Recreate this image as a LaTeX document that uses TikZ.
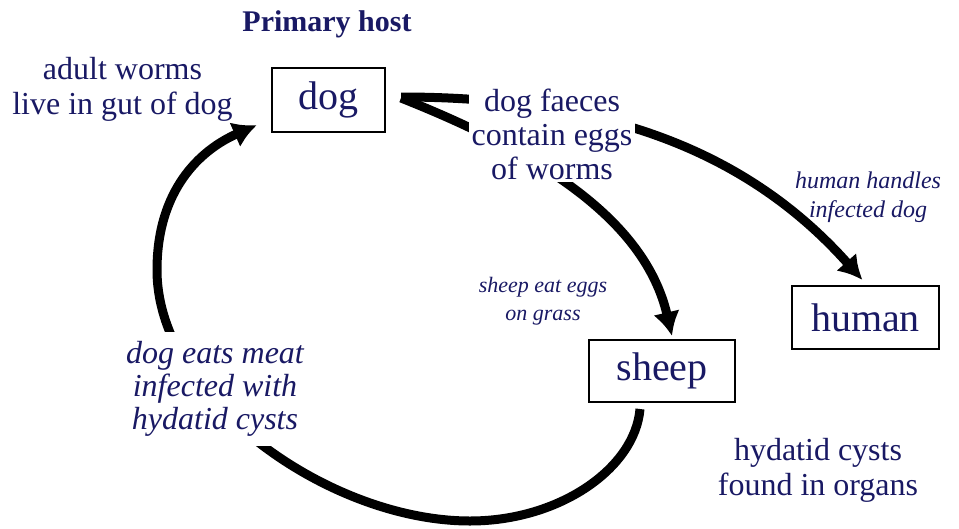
\documentclass[tikz,border=0pt]{standalone}
\usepackage{fontspec}
\setmainfont{Liberation Serif}
\usepackage{tikz}
\usetikzlibrary{arrows.meta}
\definecolor{hostnavy}{RGB}{25,25,100}

\begin{document}
\begin{tikzpicture}[x=1pt,y=-1pt,
				hostbox/.style={draw=black,line width=2pt,text=hostnavy,inner sep=0pt,
					font=\fontsize{40}{44}\selectfont},
				cycle/.style={line width=9pt,-{Latex[length=24pt,width=27pt]}},
				note/.style={text=hostnavy,align=center,inner sep=3pt},
				cover/.style={note,fill=white}]
				\useasboundingbox[fill=white] (0,0) rectangle (959,528);
				\node[hostbox,minimum width=113pt,minimum height=64pt] (dog) at (328.5,100) {dog};
				\node[hostbox,minimum width=147pt,minimum height=63pt] (human) at (865.5,317.5) {human};
				\node[hostbox,minimum width=146pt,minimum height=62pt] (sheep) at (662,371) {sheep};

				\draw[cycle] ([xshift=15pt,yshift=3pt]dog.east) .. controls (600,97) and (745,148) .. ([xshift=-3pt,yshift=5pt]human.north);
				\draw[cycle] ([xshift=15pt,yshift=2pt]dog.east) .. controls (540,153) and (645,220) .. ([xshift=10pt,yshift=3pt]sheep.north);
				\draw[cycle] ([xshift=-22pt,yshift=-6pt]sheep.south) .. controls (635,468) and (560,521) .. (470,521)
					.. controls (330,521) and (157,400) .. (157,270)
					.. controls (157,190) and (200,150) .. ([xshift=-14pt,yshift=-25pt]dog.west);

				\node[note,font=\fontsize{30}{34}\selectfont\bfseries] (primary) at (327,24) {Primary host};
				\node[note,font=\fontsize{32}{35}\selectfont] (adult) at (122.5,89.5) {adult worms\\live in gut of dog};
				\node[cover,font=\fontsize{32}{34}\selectfont] (faeces) at (552,134) {dog faeces\\contain eggs\\of worms};
				\node[note,font=\fontsize{24}{29}\selectfont\itshape] (handles) at (868,197) {human handles\\infected dog};
				\node[note,font=\fontsize{22}{28}\selectfont\itshape] (grass) at (543,301) {sheep eat eggs\\on grass};
				\node[cover,inner ysep=9pt,font=\fontsize{32}{33}\selectfont\itshape] (meat) at (215,389) {dog eats meat\\infected with\\hydatid cysts};
				\node[note,font=\fontsize{32}{35}\selectfont] (cysts) at (818,470) {hydatid cysts\\found in organs};
\end{tikzpicture}
\end{document}
